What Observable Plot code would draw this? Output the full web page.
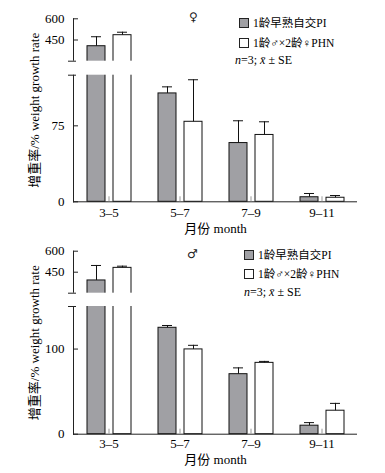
<!DOCTYPE html>
<html><head><meta charset="utf-8">
<script src="https://cdn.jsdelivr.net/npm/d3@7"></script>
<script src="https://cdn.jsdelivr.net/npm/@observablehq/plot@0.6"></script>
<style>
body{margin:0;background:#fff;}
.panel{position:relative;width:385px;}
.panel svg{display:block;}
.row{position:absolute;font-family:"Liberation Serif","Noto Sans CJK SC",serif;font-size:12px;color:#000;white-space:nowrap;line-height:14px;}
.row.lab{font-size:11.5px;}
.sq{display:inline-block;width:8px;height:8px;border:1px solid #222;margin-right:4px;vertical-align:-1px;}
.sym{position:absolute;font-family:"DejaVu Sans",sans-serif;font-size:12px;color:#222;line-height:14px;}
</style></head><body><div id="chart"></div><script>
const months = ["3–5", "5–7", "7–9", "9–11"];
const seriesKeys = ["PI", "PHN"];
const legendLabels = ["1龄早熟自交PI", "1龄♂×2龄♀PHN"];
const seriesColors = ["#a0a0a4", "#ffffff"];

// ♀ female
const femalePI = [406, 107, 58, 4.5];
const femalePIse = [67, 6.5, 22, 3.7];
const femalePHN = [484, 79, 66, 4];
const femalePHNse = [21, 41.5, 13, 2.2];
const femaleTicks = [0, 75, 450, 600];
const femaleDomain = [0, 125, 300, 600];

// ♂ male
const malePI = [391, 125, 70.5, 10];
const malePIse = [107, 2.7, 7.4, 3.6];
const malePHN = [481, 99.6, 83.8, 27.6];
const malePHNse = [12, 4.8, 1.7, 8.6];
const maleTicks = [0, 100, 450, 600];
const maleDomain = [0, 150, 300, 600];

const font = '"Liberation Serif", "Noto Sans CJK SC", serif';

function makePanel(o) {
  const data = [];
  months.forEach((m, i) => {
    data.push({month: m, series: "PI", value: o.pi[i], se: o.piSe[i]});
    data.push({month: m, series: "PHN", value: o.phn[i], se: o.phnSe[i]});
  });
  const gap = [{y1: o.domain[1], y2: o.domain[2]}];
  const breaks = [o.domain[1], o.domain[2]];
  const plot = Plot.plot({
    width: 385, height: o.height,
    marginLeft: 71, marginRight: 27, marginTop: o.range[3], marginBottom: o.height - o.range[0],
    style: {fontFamily: font, fontSize: "13px", color: "#000", background: "#fff", overflow: "visible"},
    fx: {domain: months, padding: 0},
    x: {domain: seriesKeys, paddingInner: 0.323, paddingOuter: 0.5, axis: null},
    y: {type: "linear", domain: o.domain, range: o.range},
    color: {domain: seriesKeys, range: seriesColors},
    marks: [
      Plot.barY(data, {fx: "month", x: "series", y: "value", fill: "series", stroke: "#111", strokeWidth: 1}),
      Plot.ruleX(data, {fx: "month", x: "series", y1: "value", y2: d => d.value + d.se, stroke: "#111"}),
      Plot.tickY(data, {fx: "month", x: "series", y: d => d.value + d.se, stroke: "#111", insetLeft: 4, insetRight: 4}),
      Plot.frame({anchor: "left", facetAnchor: "left", stroke: "#222"}),
      Plot.rect(gap, {y1: "y1", y2: "y2", fill: "white", insetLeft: -2}),
      Plot.ruleY([0], {stroke: "#222"}),
      Plot.axisY(o.ticks, {tickSize: -5, tickPadding: 14, stroke: "#222", fill: "#000", fontSize: 13,
        label: "增重率/% weight growth rate", labelAnchor: "center", labelOffset: 44, labelArrow: "none"}),
      Plot.axisY(breaks, {tickSize: 5, tickFormat: () => "", label: null, stroke: "#222"}),
      Plot.axisY(breaks, {tickSize: -3, tickFormat: () => "", label: null, stroke: "#222"}),
      Plot.axisFx({anchor: "bottom", tickSize: -5, tickPadding: o.fxPad, stroke: "#999", fill: "#000", fontSize: 13,
        label: "月份 month", labelAnchor: "center", labelOffset: o.labelOffset, labelArrow: "none"})
    ]
  });
  const div = document.createElement("div");
  div.className = "panel";
  div.style.height = o.height + "px";
  div.appendChild(plot);
  const sym = document.createElement("div");
  sym.className = "sym";
  sym.textContent = o.symbol;
  sym.style.left = o.symPos[0] + "px";
  sym.style.top = o.symPos[1] + "px";
  div.appendChild(sym);
  legendLabels.forEach((lab, i) => {
    const r = document.createElement("div");
    r.className = "row lab";
    r.style.left = o.legX + "px";
    r.style.top = o.legY[i] + "px";
    r.innerHTML = `<span class="sq" style="background:${seriesColors[i]}"></span>${lab}`;
    div.appendChild(r);
  });
  const n = document.createElement("div");
  n.className = "row";
  n.style.left = o.nX + "px";
  n.style.top = o.legY[2] + "px";
  n.innerHTML = "<i>n</i>=3; <i>x̄</i> ± SE";
  div.appendChild(n);
  return div;
}

const chart = document.getElementById("chart");
chart.appendChild(makePanel({
  pi: femalePI, piSe: femalePIse, phn: femalePHN, phnSe: femalePHNse,
  ticks: femaleTicks, domain: femaleDomain, range: [201.3, 74.7, 60.7, 18.3],
  height: 236, fxPad: 10.5, labelOffset: 31, symbol: "♀", symPos: [189, 10],
  legX: 239, legY: [16, 35.5, 53], nX: 235
}));
chart.appendChild(makePanel({
  pi: malePI, piSe: malePIse, phn: malePHN, phnSe: malePHNse,
  ticks: maleTicks, domain: maleDomain, range: [197.7, 70, 56.7, 14.7],
  height: 237, fxPad: 9.3, labelOffset: 30, symbol: "♂", symPos: [187, 11],
  legX: 244, legY: [12, 31, 48.5], nX: 244
}));
</script></body></html>
